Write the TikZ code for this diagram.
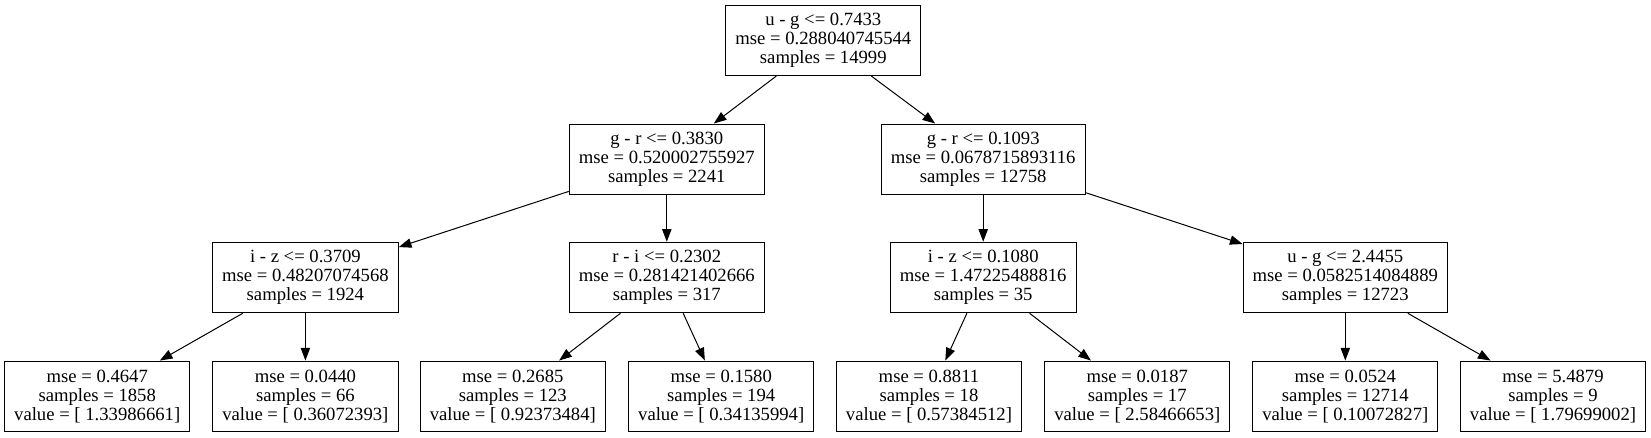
\documentclass[tikz,border=0pt]{standalone}
\usepackage{fontspec}
\setmainfont{Liberation Serif}
\usetikzlibrary{arrows.meta}
\begin{document}
\begin{tikzpicture}[x=0.75pt,y=-0.75pt,
  treenode/.style={draw, line width=0.75pt, rectangle, align=center, inner xsep=7.2pt, inner ysep=0pt,
    minimum height=52.9pt, font=\fontsize{14}{14.3}\selectfont},
  edge/.style={draw, line width=0.75pt, -{Triangle[length=9.5pt,width=7pt]}}]
\useasboundingbox (0,0) rectangle (1651,437);
\node[treenode] (n0) at (823.3,40.3) {u - g <= 0.7433\\mse = 0.288040745544\\samples = 14999};
\node[treenode] (n1) at (666.8,159.3) {g - r <= 0.3830\\mse = 0.520002755927\\samples = 2241};
\node[treenode] (n2) at (983.2,159.3) {g - r <= 0.1093\\mse = 0.0678715893116\\samples = 12758};
\node[treenode] (n3) at (305.4,277.5) {i - z <= 0.3709\\mse = 0.48207074568\\samples = 1924};
\node[treenode] (n4) at (666.8,277.5) {r - i <= 0.2302\\mse = 0.281421402666\\samples = 317};
\node[treenode] (n5) at (983.2,277.5) {i - z <= 0.1080\\mse = 1.47225488816\\samples = 35};
\node[treenode] (n6) at (1345.3,277.5) {u - g <= 2.4455\\mse = 0.0582514084889\\samples = 12723};
\node[treenode] (l1) at (97.2,396.3) {mse = 0.4647\\samples = 1858\\value = [ 1.33986661]};
\node[treenode] (l2) at (305.4,396.3) {mse = 0.0440\\samples = 66\\value = [ 0.36072393]};
\node[treenode] (l3) at (512.8,396.3) {mse = 0.2685\\samples = 123\\value = [ 0.92373484]};
\node[treenode] (l4) at (721.2,396.3) {mse = 0.1580\\samples = 194\\value = [ 0.34135994]};
\node[treenode] (l5) at (929,396.3) {mse = 0.8811\\samples = 18\\value = [ 0.57384512]};
\node[treenode] (l6) at (1137.3,396.3) {mse = 0.0187\\samples = 17\\value = [ 2.58466653]};
\node[treenode] (l7) at (1345.3,396.3) {mse = 0.0524\\samples = 12714\\value = [ 0.10072827]};
\node[treenode] (l8) at (1553,396.3) {mse = 5.4879\\samples = 9\\value = [ 1.79699002]};
\draw[edge] (n0) -- (n1);
\draw[edge] (n0) -- (n2);
\draw[edge] (n1) -- (n3);
\draw[edge] (n1) -- (n4);
\draw[edge] (n2) -- (n5);
\draw[edge] (n2) -- (n6);
\draw[edge] (n3) -- (l1);
\draw[edge] (n3) -- (l2);
\draw[edge] (n4) -- (l3);
\draw[edge] (n4) -- (l4);
\draw[edge] (n5) -- (l5);
\draw[edge] (n5) -- (l6);
\draw[edge] (n6) -- (l7);
\draw[edge] (n6) -- (l8);
\end{tikzpicture}
\end{document}
